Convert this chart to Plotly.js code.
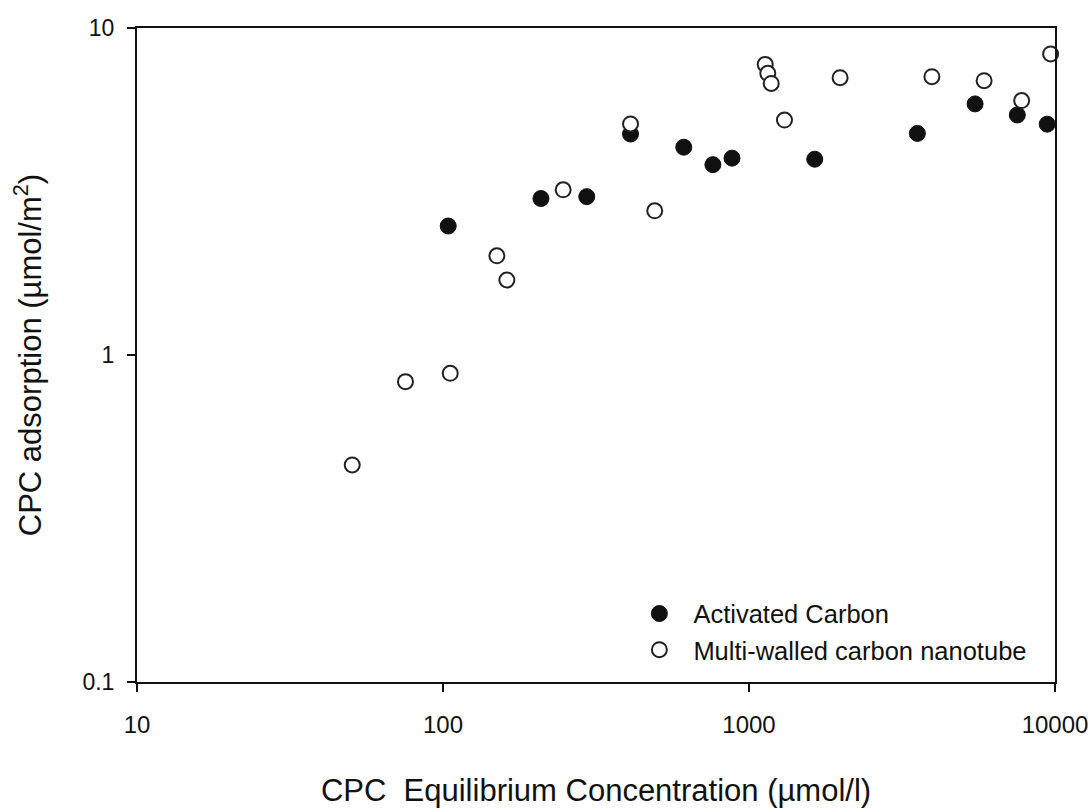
<!DOCTYPE html>
<html>
<head>
<meta charset="utf-8">
<script src="https://cdn.plot.ly/plotly-3.0.1.min.js"></script>
<style>html,body{margin:0;padding:0;background:#fff;}#chart{width:1092px;height:808px;}</style>
</head>
<body>
<div id="chart"></div>
<script>
// Activated Carbon (filled circles)
const acX = [104, 209, 295, 410, 612, 762, 880, 1640, 3550, 5480, 7530, 9430];
const acY = [2.48, 3.01, 3.05, 4.74, 4.32, 3.82, 4.00, 3.97, 4.76, 5.86, 5.42, 5.08];
// Multi-walled carbon nanotube (open circles)
const mwX = [50.5, 75.4, 105.6, 150, 161.7, 247, 410, 492, 1130, 1152, 1182, 1306, 1985, 3960, 5866, 7781, 9676];
const mwY = [0.461, 0.829, 0.879, 2.01, 1.696, 3.20, 5.09, 2.76, 7.74, 7.27, 6.77, 5.23, 7.05, 7.10, 6.90, 6.00, 8.33];
const seriesNames = ["Activated Carbon", "Multi-walled carbon nanotube"];
const xTickVals = [10, 100, 1000, 10000];
const xTickText = ["10", "100", "1000", "10000"];
const yTickVals = [0.1, 1, 10];
const yTickText = ["0.1", "1", "10"];

const font = "Liberation Sans, Arial, sans-serif";

const traces = [
  {
    x: acX, y: acY, type: "scatter", mode: "markers", name: seriesNames[0],
    cliponaxis: false,
    marker: {symbol: "circle", size: 16, color: "#111111", line: {color: "#111111", width: 1}}
  },
  {
    x: mwX, y: mwY, type: "scatter", mode: "markers", name: seriesNames[1],
    cliponaxis: false,
    marker: {symbol: "circle", size: 15, color: "#ffffff", line: {color: "#222222", width: 2}}
  }
];

const layout = {
  width: 1092, height: 808,
  paper_bgcolor: "#ffffff", plot_bgcolor: "#ffffff",
  margin: {l: 137, r: 37, t: 28, b: 126, pad: 0},
  font: {family: font, size: 23, color: "#111111"},
  showlegend: true,
  legend: {
    x: 0.532, y: 0.14, xanchor: "left", yanchor: "top",
    bgcolor: "rgba(0,0,0,0)", borderwidth: 0,
    font: {family: font, size: 25.5, color: "#111111"},
    itemwidth: 58, tracegroupgap: 0
  },
  xaxis: {
    type: "log", range: [1, 4],
    tickvals: xTickVals, ticktext: xTickText,
    ticks: "outside", ticklen: 8, tickwidth: 2, tickcolor: "#111111",
    ticklabelstandoff: 12,
    showline: true, linecolor: "#111111", linewidth: 2, mirror: true,
    showgrid: false, zeroline: false,
    tickfont: {family: font, size: 24, color: "#111111"},
    title: {text: "CPC  Equilibrium Concentration (µmol/l)", font: {family: font, size: 31, color: "#111111"}, standoff: 48}
  },
  yaxis: {
    type: "log", range: [-1, 1],
    tickvals: yTickVals, ticktext: yTickText,
    ticks: "outside", ticklen: 8, tickwidth: 2, tickcolor: "#111111",
    ticklabelstandoff: 8,
    showline: true, linecolor: "#111111", linewidth: 2, mirror: true,
    showgrid: false, zeroline: false,
    tickfont: {family: font, size: 23, color: "#111111"},
    title: {text: "CPC adsorption (µmol/m<sup>2</sup>)", font: {family: font, size: 31, color: "#111111"}, standoff: 32}
  }
};

Plotly.newPlot("chart", traces, layout, {displayModeBar: false, staticPlot: true});
</script>
</body>
</html>
